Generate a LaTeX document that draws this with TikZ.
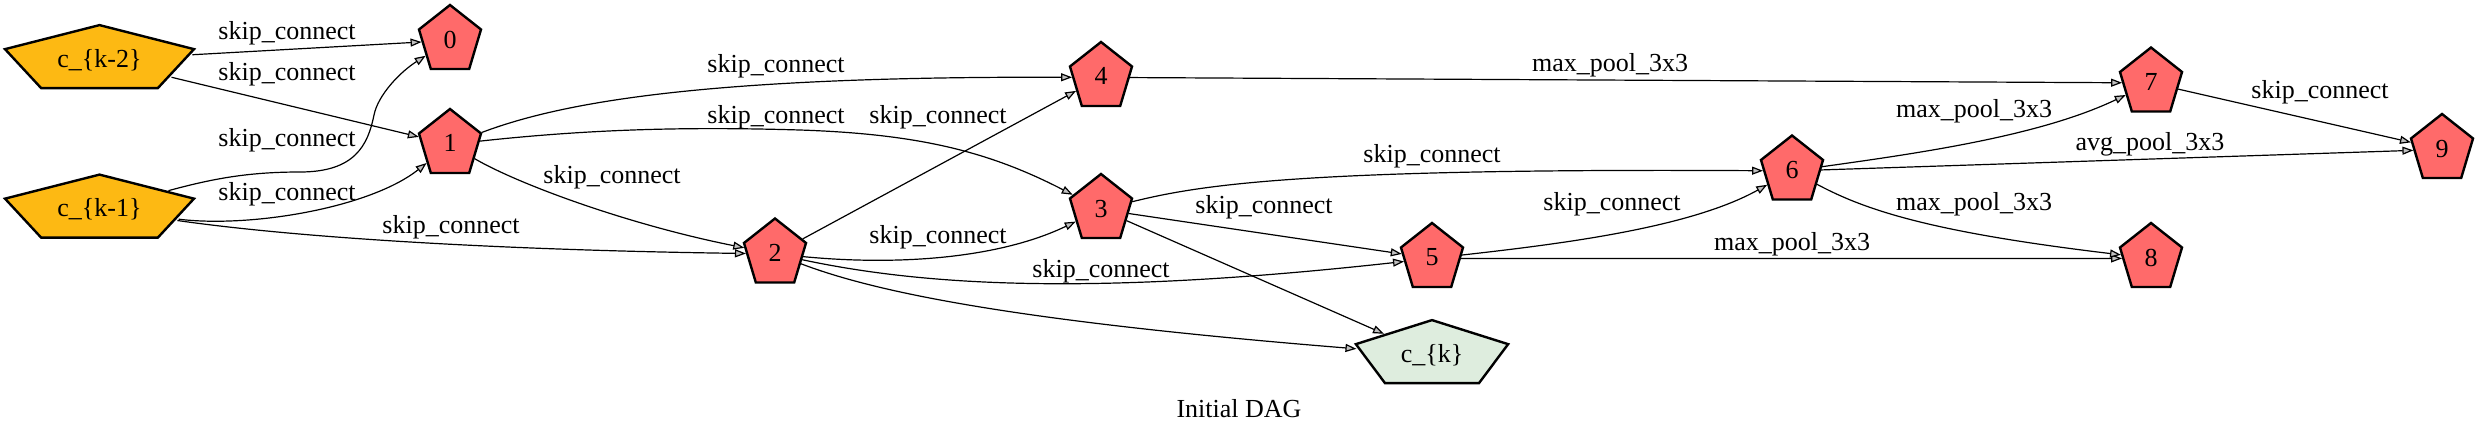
\documentclass[tikz,border=0pt]{standalone}
\usepackage{fontspec}
\setmainfont{Liberation Serif}
\usetikzlibrary{shapes.geometric,arrows.meta}
\definecolor{nodered}{HTML}{FF6A6A}
\definecolor{nodeorange}{HTML}{FDB913}
\definecolor{nodegreen}{HTML}{DEEDDE}
\definecolor{arrowgray}{HTML}{C0C0C0}
\tikzset{
  pent/.style={regular polygon, regular polygon sides=5, minimum size=35.4pt,
    inner sep=0pt, draw=black, line width=1.2pt},
  opnode/.style={pent, fill=nodered},
  innode/.style={pent, minimum size=34.8pt, fill=nodeorange},
  outnode/.style={pent, minimum size=34.8pt, fill=nodegreen},
  conn/.style={draw=black, line width=0.6pt,
    -{Triangle[length=5.5pt, width=4pt, fill=arrowgray]}},
  lbl/.style={inner sep=0pt, anchor=base},
}
% #1 style, #2 name, #3 x, #4 y, #5 xscale, #6 1/xscale, #7 text
\newcommand\pnode[7]{%
  \begin{scope}[shift={(#3,#4)}]
    \node[#1, xscale=#5, transform shape] (#2) at (0,0) {\scalebox{#6}[1]{#7}};
  \end{scope}}
\begin{document}
\begin{tikzpicture}[x=0.5pt, y=-0.5pt, font=\fontsize{13}{15}\selectfont]
\useasboundingbox (0,0) rectangle (2478,435);
% nodes
\pnode{innode}{k2}{99.5}{59.9}{2.855}{0.3503}{c\_\{k-2\}}
\pnode{innode}{k1}{99.5}{209.4}{2.855}{0.3503}{c\_\{k-1\}}
\pnode{opnode}{n0}{450}{40.4}{0.921}{1.0858}{\raisebox{1pt}{0}}
\pnode{opnode}{n1}{450}{144.4}{0.921}{1.0858}{\raisebox{1pt}{1}}
\pnode{opnode}{n2}{775}{253.9}{0.921}{1.0858}{\raisebox{1pt}{2}}
\pnode{opnode}{n3}{1101}{209.4}{0.921}{1.0858}{\raisebox{1pt}{3}}
\pnode{opnode}{n4}{1101}{77.4}{0.921}{1.0858}{\raisebox{1pt}{4}}
\pnode{opnode}{n5}{1432}{258.4}{0.921}{1.0858}{\raisebox{1pt}{5}}
\pnode{opnode}{n6}{1792}{170.9}{0.921}{1.0858}{\raisebox{1pt}{6}}
\pnode{opnode}{n7}{2151}{82.9}{0.921}{1.0858}{\raisebox{1pt}{7}}
\pnode{opnode}{n8}{2151}{258.4}{0.921}{1.0858}{\raisebox{1pt}{8}}
\pnode{opnode}{n9}{2442}{149.4}{0.921}{1.0858}{\raisebox{1pt}{9}}
\pnode{outnode}{ck}{1432}{354.9}{2.30}{0.4348}{c\_\{k\}}
% edges
\draw[conn] (k2) -- (n0);
\draw[conn] (k2) -- (n1);
\draw[conn] (k1) .. controls (215,178) and (250,172) .. (300,172)
  .. controls (355,172) and (368,145) .. (374,115)
  .. controls (378,95) and (400,72) .. (n0);
\draw[conn] (k1) .. controls (250,228) and (370,208) .. (n1);
\draw[conn] (k1) .. controls (300,238) and (500,250) .. (n2);
\draw[conn] (n1) .. controls (560,103) and (700,76) .. (n4);
\draw[conn] (n1) .. controls (600,128) and (700,127) .. (800,130)
  .. controls (920,134) and (990,152) .. (n3);
\draw[conn] (n1) .. controls (520,185) and (630,225) .. (n2);
\draw[conn] (n2) -- (n4);
\draw[conn] (n2) .. controls (900,266) and (1000,258) .. (n3);
\draw[conn] (n2) .. controls (930,287) and (1100,295) .. (n5);
\draw[conn] (n2) .. controls (870,290) and (1000,320) .. (ck);
\draw[conn] (n3) -- (n5);
\draw[conn] (n3) -- (ck);
\draw[conn] (n3) .. controls (1200,185) and (1300,168) .. (n6);
\draw[conn] (n4) -- (n7);
\draw[conn] (n5) .. controls (1560,244) and (1690,228) .. (n6);
\draw[conn] (n5) -- (n8);
\draw[conn] (n6) .. controls (1920,153) and (2040,136) .. (n7);
\draw[conn] (n6) -- (n9);
\draw[conn] (n6) .. controls (1865,210) and (1930,232) .. (n8);
\draw[conn] (n7) -- (n9);
% labels
\node[lbl] (l1) at (287,39) {skip\_connect};
\node[lbl] (l2) at (287,80) {skip\_connect};
\node[lbl] (l3) at (287,146) {skip\_connect};
\node[lbl] (l4) at (287,200) {skip\_connect};
\node[lbl] (l5) at (451,233) {skip\_connect};
\node[lbl] (l6) at (776,72) {skip\_connect};
\node[lbl] (l7) at (776,123) {skip\_connect};
\node[lbl] (l8) at (938,123) {skip\_connect};
\node[lbl] (l9) at (612,183) {skip\_connect};
\node[lbl] (l10) at (938,243) {skip\_connect};
\node[lbl] (l11) at (1101,277) {skip\_connect};
\node[lbl] (l12) at (1264,213) {skip\_connect};
\node[lbl] (l13) at (1432,162) {skip\_connect};
\node[lbl] (l14) at (1610,71) {max\_pool\_3x3};
\node[lbl] (l15) at (1612,210) {skip\_connect};
\node[lbl] (l16) at (1792,250) {max\_pool\_3x3};
\node[lbl] (l17) at (1974,117) {max\_pool\_3x3};
\node[lbl] (l18) at (1974,210) {max\_pool\_3x3};
\node[lbl] (l19) at (2150,150) {avg\_pool\_3x3};
\node[lbl] (l20) at (2320,98) {skip\_connect};
\node[lbl] (title) at (1239,417) {Initial DAG};
\end{tikzpicture}
\end{document}
